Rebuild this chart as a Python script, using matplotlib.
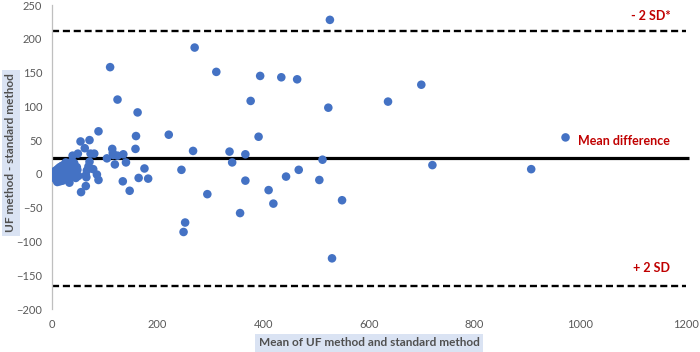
import numpy as np
import matplotlib.pyplot as plt

# Bland-Altman data: mean of both methods vs. difference (UF - standard)
mean_vals = [526, 270, 110, 311, 394, 434, 464, 699, 124, 376, 636, 523, 162, 88,
             221, 159, 391, 972, 54, 71, 62, 114, 158, 267, 336, 39, 49, 73, 80,
             115, 116, 104, 124, 135, 366, 512, 71, 119, 140, 341, 720, 69, 175,
             245, 467, 907, 66, 78, 48, 64, 85, 50, 65, 88, 134, 164, 182, 443,
             366, 506, 33, 64, 147, 55, 294, 410, 419, 549, 356, 252, 249, 530,
             1, 2, 3, 4, 5, 5, 6, 7, 8, 8, 9, 10, 11, 12, 12, 13, 14, 15, 15, 16,
             17, 18, 19, 20, 21, 22, 23, 24, 25, 26, 27, 28, 29, 30, 31, 32, 33,
             34, 35, 36, 38, 40, 42, 44, 45, 47, 37, 26, 20, 10]
diff_vals = [228, 187, 158, 151, 145, 143, 140, 132, 110, 108, 107, 98, 91, 63,
             58, 56, 55, 54, 48, 50, 38, 37, 37, 34, 33, 27, 30, 30, 30,
             31, 28, 23, 27, 29, 29, 21, 18, 14, 17, 17, 13, 11, 8,
             6, 6, 7, 5, 7, 6, -2, -1, -3, -5, -9, -11, -6, -7, -4,
             -10, -9, -13, -18, -25, -27, -30, -24, -44, -39, -58, -72, -86, -125,
             0, -3, 2, -1, -6, 4, 1, -4, 3, -9, 6, -2, 1, -7, 8, 3, -4, 10, -11, 0,
             5, -6, 12, 2, -3, 7, -8, 14, 1, -5, 9, -2, 4, 15, -7, 11, 2,
             -4, 8, 13, -1, 5, 16, 1, -6, 10, 18, 17, -10, -12]

mean_diff = 23
upper_loa = 212
lower_loa = -166

fig = plt.figure(figsize=(7, 3.52), dpi=100)
ax = fig.add_axes([52 / 700, 1 - 309 / 352, 634 / 700, 304 / 352])

ax.scatter(mean_vals, diff_vals, s=38, color='#4472C4', edgecolors='none', zorder=3)

ax.hlines(mean_diff, 0, 1205, color='black', lw=2.3, zorder=2, clip_on=False)
ax.hlines([upper_loa, lower_loa], 0, 1200, color='black', lw=1.7,
          linestyles=(0, (3.0, 1.6)), zorder=2)

red = '#C00000'
ax.text(1170, 234, '- 2 SD*', color=red, fontsize=9, fontweight='bold',
        ha='right', va='center', family='Lato')
ax.text(1170, 49, 'Mean difference', color=red, fontsize=9, fontweight='bold',
        ha='right', va='center', family='Lato')
ax.text(1170, -139, '+ 2 SD', color=red, fontsize=9, fontweight='bold',
        ha='right', va='center', family='Lato')

ax.set_xlim(0, 1200)
ax.set_ylim(-200, 250)
ax.set_xticks(np.arange(0, 1201, 200))
ax.set_yticks(np.arange(-200, 251, 50))
ax.tick_params(length=0, labelsize=8, labelcolor='#595959', pad=7)
for lab in ax.get_xticklabels() + ax.get_yticklabels():
    lab.set_family('Lato')
ax.spines[['top', 'right', 'bottom']].set_visible(False)
ax.spines['left'].set_color('#BFBFBF')
ax.spines['left'].set_linewidth(0.9)

box = dict(facecolor='#DAE3F3', edgecolor='none', pad=2.8)
fig.text(369 / 700, 1 - 343 / 352, 'Mean of UF method and standard method',
         ha='center', va='center', fontsize=8.5, fontweight='bold',
         color='#505050', family='Lato', bbox=box)
fig.text(11 / 700, 1 - 153 / 352, 'UF method - standard method',
         ha='center', va='center', rotation=90, fontsize=8.5, fontweight='bold',
         color='#505050', family='Lato', bbox=box)

fig.savefig('out.png', dpi=100)
